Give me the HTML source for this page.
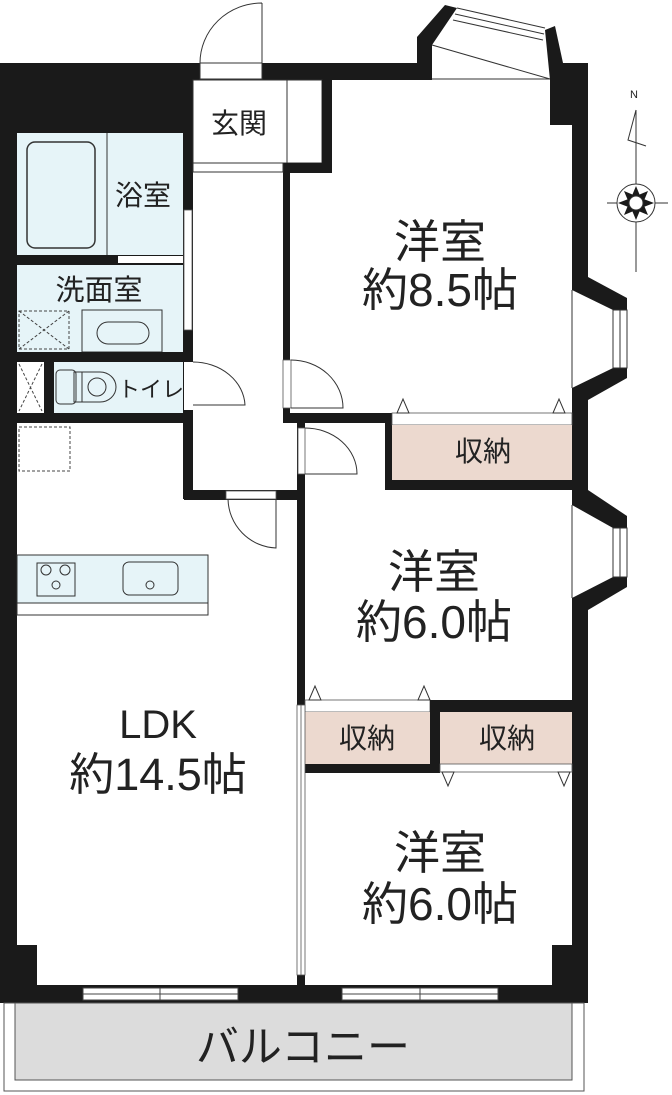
<!DOCTYPE html>
<html><head><meta charset="utf-8"><style>
html,body{margin:0;padding:0;background:#fff}
svg{display:block}
text{font-family:"Liberation Sans","Noto Sans CJK JP",sans-serif;fill:#222}
</style></head><body>
<svg width="672" height="1095" viewBox="0 0 672 1095" xmlns="http://www.w3.org/2000/svg">
<g fill="#1a1a1a">
<rect x="0" y="63" width="417" height="17"/>
<rect x="0" y="63" width="193" height="70"/>
<rect x="0" y="63" width="17" height="940"/>
<rect x="550" y="63" width="38" height="17"/>
<rect x="550" y="63" width="22" height="62"/>
<rect x="572" y="63" width="16" height="215"/>
<rect x="572" y="392" width="16" height="100"/>
<rect x="572" y="605" width="16" height="398"/>
<rect x="0" y="985" width="588" height="18"/>
<polygon points="417,80 417,37 445,5 457,8 432,45 432,80"/>
<polygon points="555,26 563,63 550,80 545,30"/>
<!-- right bays diagonals -->
<polygon points="572,277 588,277 627,298 627,310 613,310 572,290"/>
<polygon points="572,400 588,400 627,378 627,368 613,368 572,388"/>
<polygon points="572,490 588,490 627,516 627,528 613,528 572,505"/>
<polygon points="572,610 588,610 627,587 627,577 613,577 572,598"/>
</g>
<g fill="none" stroke="#333" stroke-width="1">
<line x1="457" y1="8" x2="545" y2="28"/><line x1="455" y1="14" x2="544" y2="34"/><line x1="453" y1="20" x2="543" y2="40"/>
<line x1="432" y1="45" x2="550" y2="79"/><line x1="432" y1="79" x2="550" y2="79"/>
<rect x="613" y="310" width="14" height="58"/><line x1="620" y1="310" x2="620" y2="368"/>
<line x1="572" y1="290" x2="572" y2="388"/>
<rect x="613" y="528" width="14" height="49"/><line x1="620" y1="528" x2="620" y2="577"/>
<line x1="572" y1="505" x2="572" y2="598"/>
</g>
<rect x="15" y="1003" width="557" height="77" fill="#dcdcdc" stroke="#555" stroke-width="1"/>
<rect x="4" y="1003" width="580" height="88" fill="none" stroke="#555" stroke-width="1"/>
<rect x="17" y="133" width="166" height="122" fill="#e6f4f8"/>
<rect x="27" y="142" width="68" height="106" rx="8" fill="#e6f4f8" stroke="#333" stroke-width="1.5"/>
<line x1="107" y1="133" x2="107" y2="255" stroke="#333"/>
<rect x="17" y="255" width="166" height="10" fill="#1a1a1a"/>
<rect x="118" y="256" width="65" height="7" fill="#fff"/>
<rect x="17" y="265" width="166" height="87" fill="#e6f4f8"/>
<rect x="19" y="311" width="50" height="38" fill="none" stroke="#444" stroke-dasharray="3,2"/>
<line x1="19" y1="311" x2="69" y2="349" stroke="#444" stroke-dasharray="3,2"/><line x1="69" y1="311" x2="19" y2="349" stroke="#444" stroke-dasharray="3,2"/>
<rect x="82" y="310" width="80" height="42" fill="#e6f4f8" stroke="#333"/>
<rect x="97" y="322" width="52" height="22" rx="11" fill="none" stroke="#333"/>
<rect x="17" y="352" width="166" height="10" fill="#1a1a1a"/>
<rect x="17" y="362" width="27" height="51" fill="#fff"/>
<line x1="19" y1="364" x2="42" y2="411" stroke="#444" stroke-dasharray="3,2"/><line x1="42" y1="364" x2="19" y2="411" stroke="#444" stroke-dasharray="3,2"/>
<rect x="44" y="362" width="10" height="51" fill="#1a1a1a"/>
<rect x="54" y="362" width="129" height="51" fill="#e6f4f8"/>
<rect x="56" y="370" width="20" height="34" rx="4" fill="none" stroke="#333"/>
<rect x="74" y="372" width="8" height="30" fill="none" stroke="#333"/>
<path d="M82,372 L100,372 A16,15 0 0 1 100,402 L82,402" fill="none" stroke="#333"/>
<circle cx="97" cy="387" r="9" fill="none" stroke="#333"/>
<rect x="17" y="413" width="176" height="10" fill="#1a1a1a"/>
<rect x="19" y="427" width="51" height="44" fill="none" stroke="#444" stroke-dasharray="3,2"/>
<rect x="183" y="133" width="10" height="366" fill="#1a1a1a"/>
<rect x="184" y="210" width="8" height="120" fill="#fff" stroke="#555" stroke-width="0.8"/>
<rect x="184" y="362" width="9" height="48" fill="#fff"/>
<path d="M193,362 A52,45 0 0 1 245,405 L193,405" fill="none" stroke="#333"/>
<rect x="184" y="490" width="113" height="10" fill="#1a1a1a"/>
<rect x="226" y="491" width="50" height="8" fill="#fff" stroke="#555" stroke-width="0.8"/>
<path d="M276,499 L276,548 A50,50 0 0 1 228,499" fill="none" stroke="#333"/>
<rect x="193" y="80" width="94" height="83" fill="#fff" stroke="#333"/>
<rect x="287" y="80" width="35" height="83" fill="#fff" stroke="#333"/>
<rect x="322" y="80" width="10" height="93" fill="#1a1a1a"/>
<rect x="283" y="163" width="49" height="10" fill="#1a1a1a"/>
<rect x="283" y="163" width="7" height="250" fill="#1a1a1a"/>
<rect x="193" y="163" width="90" height="9" fill="#fff" stroke="#333"/>
<rect x="200" y="63" width="62" height="16" fill="#fff" stroke="#333"/>
<path d="M262,3 L262,63 M262,3 A62,60 0 0 0 200,63" fill="none" stroke="#333"/>
<rect x="283" y="360" width="8" height="48" fill="#fff" stroke="#555" stroke-width="0.8"/>
<path d="M291,360 A52,48 0 0 1 343,408 L291,408" fill="none" stroke="#333"/>
<rect x="283" y="413" width="109" height="10" fill="#1a1a1a"/>
<rect x="385" y="413" width="7" height="77" fill="#1a1a1a"/>
<rect x="392" y="413" width="180" height="12" fill="#fff" stroke="#555" stroke-width="0.8"/>
<polygon points="397,413 403,399 409,413" fill="#fff" stroke="#333"/>
<polygon points="553,413 559,399 565,413" fill="#fff" stroke="#333"/>
<rect x="392" y="425" width="180" height="55" fill="#ecd9cf"/>
<rect x="385" y="480" width="187" height="10" fill="#1a1a1a"/>
<rect x="297" y="423" width="8" height="562" fill="#1a1a1a"/>
<rect x="298" y="428" width="7" height="46" fill="#fff" stroke="#555" stroke-width="0.8"/>
<path d="M305,428 A52,46 0 0 1 357,474 L305,474" fill="none" stroke="#333"/>
<rect x="305" y="700" width="125" height="12" fill="#fff" stroke="#555" stroke-width="0.8"/>
<polygon points="309,700 315,686 321,700" fill="#fff" stroke="#333"/>
<polygon points="418,700 424,686 430,700" fill="#fff" stroke="#333"/>
<rect x="430" y="700" width="142" height="12" fill="#1a1a1a"/>
<rect x="305" y="712" width="125" height="52" fill="#ecd9cf"/>
<rect x="430" y="712" width="10" height="60" fill="#1a1a1a"/>
<rect x="440" y="712" width="132" height="52" fill="#ecd9cf"/>
<rect x="305" y="764" width="135" height="9" fill="#1a1a1a"/>
<rect x="440" y="764" width="132" height="8" fill="#fff" stroke="#555" stroke-width="0.8"/>
<polygon points="442,772 448,786 454,772" fill="#fff" stroke="#333"/>
<polygon points="558,772 564,786 570,772" fill="#fff" stroke="#333"/>
<rect x="297" y="705" width="8" height="270" fill="#fff" stroke="#555" stroke-width="0.8"/>
<line x1="301" y1="705" x2="301" y2="975" stroke="#555" stroke-width="0.8"/>
<rect x="17" y="555" width="191" height="48" fill="#e6f4f8" stroke="#333"/>
<rect x="17" y="603" width="191" height="12" fill="#fff" stroke="#333"/>
<rect x="37" y="563" width="38" height="33" fill="none" stroke="#333"/>
<circle cx="46" cy="570" r="5" fill="none" stroke="#333"/><circle cx="65" cy="570" r="5" fill="none" stroke="#333"/><circle cx="56" cy="585" r="4" fill="none" stroke="#333"/>
<rect x="123" y="562" width="55" height="33" rx="6" fill="none" stroke="#333"/>
<circle cx="150" cy="585" r="4" fill="none" stroke="#333"/>
<rect x="17" y="945" width="20" height="40" fill="#1a1a1a"/>
<rect x="552" y="945" width="20" height="40" fill="#1a1a1a"/>
<rect x="83" y="988" width="155" height="12" fill="#fff" stroke="#444"/>
<line x1="83" y1="994" x2="238" y2="994" stroke="#444"/><line x1="160" y1="988" x2="160" y2="1000" stroke="#444"/>
<rect x="342" y="988" width="156" height="12" fill="#fff" stroke="#444"/>
<line x1="342" y1="994" x2="498" y2="994" stroke="#444"/><line x1="420" y1="988" x2="420" y2="1000" stroke="#444"/>
<g stroke="#333" fill="none">
<line x1="636" y1="110" x2="636" y2="272"/><line x1="607" y1="203" x2="668" y2="203"/>
<polyline points="636,110 628,140 646,146"/>
<circle cx="636" cy="203" r="19" fill="#fff"/>
</g>
<g fill="#1a1a1a">
<polygon points="636,186 641,198 654,203 641,208 636,220 631,208 618,203 631,198"/>
<polygon points="624,191 636,196 648,191 643,203 648,215 636,210 624,215 629,203"/>
</g>
<circle cx="636" cy="203" r="7" fill="#fff" stroke="#333"/>
<text x="630" y="98" font-size="11">N</text>
<text x="239" y="133" font-size="28" text-anchor="middle">玄関</text>
<text x="143" y="205" font-size="28" text-anchor="middle">浴室</text>
<text x="99" y="300" font-size="29" text-anchor="middle">洗面室</text>
<text x="118" y="397" font-size="22">トイレ</text>
<text x="440" y="258" font-size="46" text-anchor="middle">洋室</text>
<text x="440" y="306" font-size="46" text-anchor="middle">約8.5帖</text>
<text x="483" y="461" font-size="28" text-anchor="middle">収納</text>
<text x="434" y="588" font-size="46" text-anchor="middle">洋室</text>
<text x="434" y="638" font-size="46" text-anchor="middle">約6.0帖</text>
<text x="367" y="748" font-size="28" text-anchor="middle">収納</text>
<text x="507" y="748" font-size="28" text-anchor="middle">収納</text>
<text x="158" y="738" font-size="40" text-anchor="middle">LDK</text>
<text x="158" y="790" font-size="45" text-anchor="middle">約14.5帖</text>
<text x="440" y="869" font-size="46" text-anchor="middle">洋室</text>
<text x="440" y="920" font-size="46" text-anchor="middle">約6.0帖</text>
<text x="303" y="1062" font-size="43" text-anchor="middle">バルコニー</text>
</svg>
</body></html>
